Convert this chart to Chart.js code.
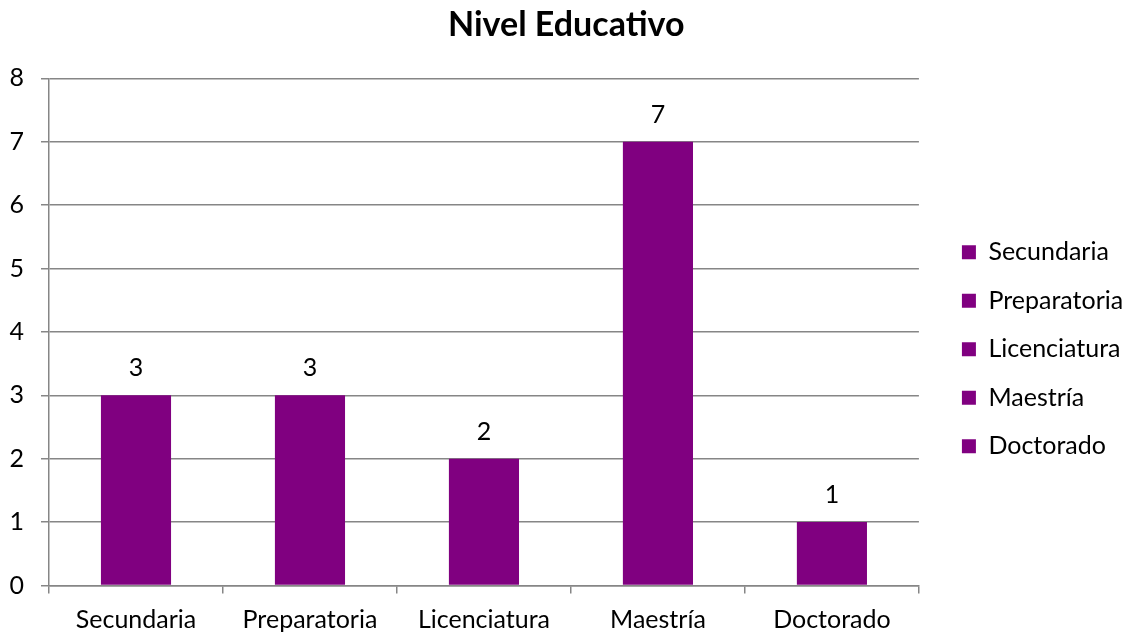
<!DOCTYPE html>
<html>
<head>
<meta charset="utf-8">
<script src="https://cdn.jsdelivr.net/npm/chart.js@4/dist/chart.umd.min.js"></script>
<style>
  html, body { margin: 0; padding: 0; background: #ffffff; }
  #wrap { width: 1123px; height: 635px; }
</style>
</head>
<body>
<div id="wrap"><canvas id="c" width="1123" height="635"></canvas></div>
<script>
const categories = ['Secundaria', 'Preparatoria', 'Licenciatura', 'Maestría', 'Doctorado'];
const values = [3, 3, 2, 7, 1];
const yTicks = [0, 1, 2, 3, 4, 5, 6, 7, 8];
const chartTitle = 'Nivel Educativo';

const FONT = 'Lato, "Open Sans", sans-serif';
const TEXT_SIZE = 25;
const BAR_COLOR = '#800080';
const GRID_COLOR = '#868686';

// Writes each bar's value just above it
const valueLabels = {
  id: 'valueLabels',
  afterDatasetsDraw(chart) {
    const ctx = chart.ctx;
    const meta = chart.getDatasetMeta(0);
    ctx.save();
    ctx.font = TEXT_SIZE + 'px ' + FONT;
    ctx.fillStyle = '#000000';
    ctx.textAlign = 'center';
    ctx.textBaseline = 'middle';
    meta.data.forEach((bar, i) => {
      ctx.fillText(String(values[i]), bar.x, bar.y - 27);
    });
    ctx.restore();
  }
};

new Chart(document.getElementById('c'), {
  type: 'bar',
  data: {
    labels: categories,
    datasets: [{
      label: chartTitle,
      data: values,
      backgroundColor: BAR_COLOR,
      borderWidth: 0,
      categoryPercentage: 1.0,
      barPercentage: 0.403
    }]
  },
  options: {
    responsive: false,
    animation: false,
    layout: { padding: { left: 8, right: -1.5, top: 0, bottom: -10.5 } },
    plugins: {
      title: {
        display: true,
        text: chartTitle,
        color: '#000000',
        font: { family: FONT, size: 34, weight: 'bold' },
        padding: { top: 5, bottom: 32.5 }
      },
      legend: {
        display: true,
        position: 'right',
        title: {
          display: true,
          text: ' ',
          font: { size: 1 },
          padding: { top: 52, bottom: 0 }
        },
        labels: {
          color: '#000000',
          font: { family: FONT, size: TEXT_SIZE },
          boxWidth: 14,
          boxHeight: 14,
          padding: 23.5,
          generateLabels() {
            return categories.map((c, i) => ({
              text: c,
              fillStyle: BAR_COLOR,
              strokeStyle: BAR_COLOR,
              fontColor: '#000000',
              lineWidth: 0,
              hidden: false,
              index: i,
              datasetIndex: 0
            }));
          }
        },
        onClick() {}
      },
      tooltip: { enabled: false }
    },
    scales: {
      x: {
        offset: true,
        grid: {
          display: true,
          offset: true,
          drawOnChartArea: false,
          drawTicks: true,
          tickLength: 8,
          color: GRID_COLOR,
          lineWidth: 1.5
        },
        border: { display: true, color: GRID_COLOR, width: 1.5 },
        ticks: {
          color: '#000000',
          font: { family: FONT, size: TEXT_SIZE },
          padding: 11
        }
      },
      y: {
        min: 0,
        max: 8,
        afterBuildTicks(axis) {
          axis.ticks = yTicks.map(v => ({ value: v }));
        },
        afterFit(scale) { scale.width = 41; },
        grid: {
          color: GRID_COLOR,
          lineWidth: 1.5,
          drawTicks: true,
          tickLength: 8
        },
        border: { display: true, color: GRID_COLOR, width: 1.5 },
        ticks: {
          color: '#000000',
          font: { family: FONT, size: TEXT_SIZE },
          padding: 17
        }
      },
      // empty right-hand axis: keeps a gap between the plot and the legend
      gap: {
        type: 'linear',
        position: 'right',
        display: true,
        grid: { display: false },
        border: { display: false },
        ticks: { display: false },
        afterFit(scale) { scale.width = 19.5; }
      }
    }
  },
  plugins: [valueLabels]
});
</script>
</body>
</html>
